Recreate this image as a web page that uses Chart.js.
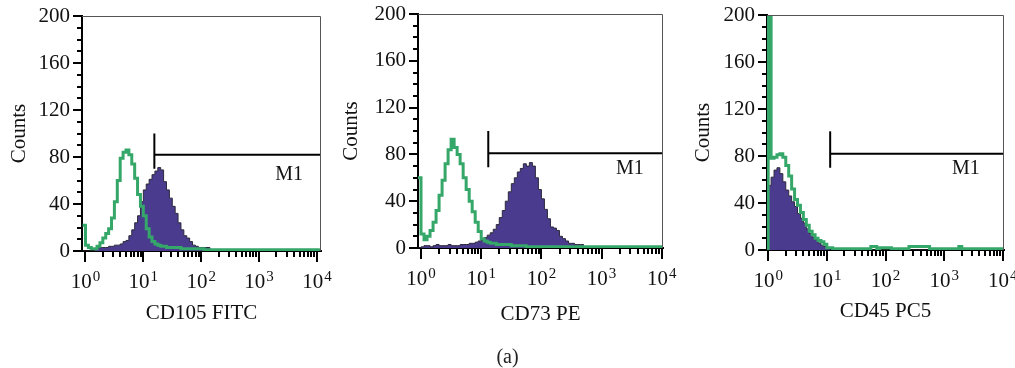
<!DOCTYPE html>
<html>
<head>
<meta charset="utf-8">
<script src="https://cdn.jsdelivr.net/npm/chart.js@4"></script>
<style>
  html, body { margin: 0; padding: 0; background: #fff; }
  #wrap { position: relative; width: 1015px; height: 368px; }
  #wrap canvas { position: absolute; left: 0; top: 0; }
  #caption { position: absolute; left: 0; top: 345px; width: 1015px; height: 20px; line-height: 20px;
             text-align: center; font: 20px "Liberation Serif", serif; color: #222; }
</style>
</head>
<body>
<div id="wrap">
  <canvas id="p1" width="1015" height="368"></canvas>
  <canvas id="p2" width="1015" height="368"></canvas>
  <canvas id="p3" width="1015" height="368"></canvas>
  <div id="caption">(a)</div>
</div>
<script>
// histogram channels: bin i starts at 10^(binStartLog + i*binWidthLog)
const binStartLog = -0.05;
const binWidthLog = 0.05;

const axisTitles = ['CD105 FITC', 'CD73 PE', 'CD45 PC5'];
const yTitle = 'Counts';
const countLabels = [0, 40, 80, 120, 160, 200];
const decadeExponents = [0, 1, 2, 3, 4];

// counts per bin (green = isotype control, purple = stained)
const cd105Control = [22,
  5, 3, 2, 2, 4, 7, 11, 15, 19, 28, 42, 60, 79, 84, 86, 82, 74, 62, 48, 38,
  30, 19, 12, 8, 6, 5, 4, 4, 3, 3, 3, 3, 3, 2, 2, 2, 2, 2, 2, 2,
  2, 1, 1, 1, 1, 1, 1, 1, 1, 1, 1, 1, 1, 1, 1, 1, 1, 1, 1, 1,
  1, 1, 1, 1, 1, 1, 1, 1, 1, 1, 1, 1, 1, 1, 1, 1, 1, 1, 1, 1,
  1];
const cd105Stained = [0,
  0, 0, 0, 2, 3, 3, 3, 3, 4, 4, 5, 5, 6, 8, 9, 13, 18, 24, 30, 42,
  52, 57, 61, 65, 68, 71, 69, 59, 52, 45, 38, 32, 24, 18, 13, 11, 8, 5, 4, 3,
  3, 3, 3, 1, 1, 1, 1, 1, 1, 1, 1, 1, 1, 1, 1, 1, 1, 1, 1, 1,
  1, 1, 1, 1, 1, 1, 1, 1, 1, 1, 1, 1, 1, 1, 1, 1, 1, 1, 1, 1,
  1];
const cd73Control = [60,
  12, 7, 10, 15, 22, 32, 45, 58, 72, 84, 93, 86, 80, 72, 60, 50, 40, 31, 22, 14,
  8, 6, 5, 4, 4, 3, 3, 3, 3, 3, 2, 2, 2, 2, 2, 1, 1, 1, 1, 1,
  1, 1, 1, 1, 1, 1, 1, 1, 1, 1, 1, 1, 1, 1, 1, 1, 1, 1, 1, 1,
  1, 1, 1, 1, 1, 1, 1, 1, 1, 1, 1, 1, 1, 1, 1, 1, 1, 1, 1, 1,
  1];
const cd73Stained = [0,
  1, 2, 2, 1, 2, 3, 2, 2, 2, 3, 2, 2, 2, 3, 3, 3, 4, 4, 5, 6,
  7, 9, 11, 13, 16, 20, 26, 32, 40, 48, 55, 60, 65, 68, 72, 70, 73, 70, 60, 50,
  42, 33, 25, 18, 17, 15, 10, 8, 6, 4, 4, 3, 3, 3, 1, 1, 1, 1, 1, 1,
  1, 1, 1, 1, 1, 1, 1, 1, 1, 1, 1, 1, 1, 1, 1, 1, 1, 1, 1, 1,
  1];
const cd45Control = [0,
  230, 78, 79, 81, 82, 79, 72, 63, 52, 43, 38, 32, 26, 21, 16, 13, 10, 8, 7, 5,
  2, 2, 1, 1, 1, 1, 1, 1, 1, 1, 1, 1, 1, 1, 1, 3, 3, 1, 2, 2,
  2, 2, 1, 1, 1, 1, 1, 1, 3, 3, 3, 3, 3, 3, 3, 1, 1, 1, 1, 1,
  1, 1, 1, 1, 1, 3, 1, 1, 1, 1, 1, 1, 1, 1, 1, 1, 1, 1, 1, 1,
  1];
const cd45Stained = [0,
  55, 62, 68, 70, 65, 58, 51, 46, 41, 37, 31, 27, 23, 18, 14, 11, 9, 6, 4, 3,
  1, 0, 0, 0, 0, 0, 0, 0, 0, 0, 0, 0, 0, 0, 0, 0, 0, 0, 0, 0,
  0, 0, 0, 0, 0, 0, 0, 0, 0, 0, 0, 0, 0, 0, 0, 0, 0, 0, 0, 0,
  0, 0, 0, 0, 0, 0, 0, 0, 0, 0, 0, 0, 0, 0, 0, 0, 0, 0, 0, 0,
  0];

// M1 gate: start value, level, vertical tick span, label position
const gateStart = [15.5, 13.1, 11.4];
const gateLevel = [82, 81, 82];
const gateTickLow = [70, 69, 70];
const gateTickHigh = [100, 100, 101];
const gateLabelX = [3300, 2950, 2350];
const gateLabelY = [65, 68, 69];

const green = '#35a769';
const purple = '#4a3b8e';
const fontFamily = '"Liberation Serif", "DejaVu Serif", serif';

const panels = [
  { id: 'p1', control: cd105Control, stained: cd105Stained, xMin: 0.871, xMax: 11750,
    pad: { left: 7, right: 694, top: 16, bottom: 43 }, yWidth: 75, xHeight: 74 },
  { id: 'p2', control: cd73Control, stained: cd73Stained, xMin: 0.891, xMax: 10470,
    pad: { left: 339, right: 352, top: 14, bottom: 42 }, yWidth: 79, xHeight: 78 },
  { id: 'p3', control: cd45Control, stained: cd45Stained, xMin: 0.955, xMax: 10470,
    pad: { left: 691, right: 11, top: 15, bottom: 45 }, yWidth: 76, xHeight: 73 }
];

function toPoints(values) {
  const pts = values.map((v, i) => ({ x: Math.pow(10, binStartLog + binWidthLog * i), y: v }));
  pts.push({ x: Math.pow(10, binStartLog + binWidthLog * values.length), y: values[values.length - 1] });
  return pts;
}

const decorations = {
  id: 'decorations',
  afterDatasetsDraw(chart, args, opts) {
    const { ctx, chartArea: a, scales: { x, y } } = chart;
    ctx.save();
    // top and right frame
    ctx.strokeStyle = '#555';
    ctx.lineWidth = 1;
    ctx.beginPath();
    ctx.moveTo(a.left, a.top + 0.5);
    ctx.lineTo(a.right - 0.5, a.top + 0.5);
    ctx.lineTo(a.right - 0.5, a.bottom);
    ctx.stroke();

    // count ticks every 10
    ctx.strokeStyle = '#000';
    ctx.lineWidth = 2;
    ctx.beginPath();
    for (let v = 0; v <= 200; v += 10) {
      const py = Math.round(y.getPixelForValue(v));
      const len = v % 40 === 0 ? 9 : 5;
      ctx.moveTo(a.left - len, py);
      ctx.lineTo(a.left, py);
    }
    // log ticks
    decadeExponents.forEach(k => {
      for (let m = 1; m <= 9; m++) {
        const v = m * Math.pow(10, k);
        if (v < x.min || v > x.max) continue;
        const px = Math.round(x.getPixelForValue(v));
        const len = m === 1 ? 11 : 6;
        ctx.moveTo(px, a.bottom);
        ctx.lineTo(px, a.bottom + len);
      }
    });
    ctx.stroke();

    // decade labels 10^k
    ctx.fillStyle = '#111';
    ctx.textBaseline = 'alphabetic';
    ctx.textAlign = 'left';
    decadeExponents.forEach(k => {
      const px = x.getPixelForValue(Math.pow(10, k));
      ctx.font = '21px ' + fontFamily;
      const wBase = ctx.measureText('10').width;
      ctx.font = '15px ' + fontFamily;
      const wExp = ctx.measureText(String(k)).width;
      const left = px - (wBase + wExp + 1) / 2;
      ctx.font = '21px ' + fontFamily;
      ctx.fillText('10', left, a.bottom + 37);
      ctx.font = '15px ' + fontFamily;
      ctx.fillText(String(k), left + wBase + 1, a.bottom + 30);
    });

    // M1 label
    ctx.font = '20px ' + fontFamily;
    ctx.textAlign = 'center';
    ctx.textBaseline = 'middle';
    ctx.fillText('M1', x.getPixelForValue(opts.labelX), y.getPixelForValue(opts.labelY));
    ctx.restore();
  }
};

panels.forEach((p, n) => {
  new Chart(document.getElementById(p.id), {
    type: 'line',
    data: {
      datasets: [
        { data: [{ x: gateStart[n], y: gateLevel[n] }, { x: p.xMax, y: gateLevel[n] }],
          borderColor: '#000', borderWidth: 2, pointRadius: 0, fill: false },
        { data: [{ x: gateStart[n], y: gateTickLow[n] }, { x: gateStart[n], y: gateTickHigh[n] }],
          borderColor: '#000', borderWidth: 2, pointRadius: 0, fill: false },
        { data: toPoints(p.control), borderColor: green, borderWidth: 3, stepped: true,
          pointRadius: 0, fill: false },
        { data: toPoints(p.stained), borderColor: '#2c2a3c', borderWidth: 1, backgroundColor: purple,
          stepped: true, pointRadius: 0, fill: 'origin' }
      ]
    },
    options: {
      responsive: false,
      animation: false,
      events: [],
      layout: { padding: p.pad },
      plugins: {
        legend: { display: false },
        tooltip: { enabled: false },
        decorations: { labelX: gateLabelX[n], labelY: gateLabelY[n] }
      },
      scales: {
        x: {
          type: 'logarithmic',
          min: p.xMin,
          max: p.xMax,
          grid: { display: false, drawTicks: false },
          border: { display: true, color: '#000', width: 2 },
          ticks: { display: false },
          title: { display: true, text: axisTitles[n], color: '#111', padding: 0,
                   font: { family: fontFamily, size: 21, lineHeight: '24px' } },
          afterFit(scale) {
            scale.height = p.xHeight;
            scale.paddingLeft = 0; scale.paddingRight = 0;
          }
        },
        y: {
          type: 'linear',
          min: 0,
          max: 200,
          grid: { display: false, drawTicks: false },
          border: { display: true, color: '#000', width: 2 },
          afterBuildTicks(scale) {
            scale.ticks = countLabels.map(v => ({ value: v }));
          },
          ticks: { padding: 12, color: '#111', font: { family: fontFamily, size: 21 } },
          title: { display: true, text: yTitle, color: '#111', padding: 0,
                   font: { family: fontFamily, size: 21, lineHeight: '24px' } },
          afterFit(scale) {
            scale.width = p.yWidth;
            scale.paddingTop = 0; scale.paddingBottom = 0;
          }
        }
      }
    },
    plugins: [decorations]
  });
});
</script>
</body>
</html>
